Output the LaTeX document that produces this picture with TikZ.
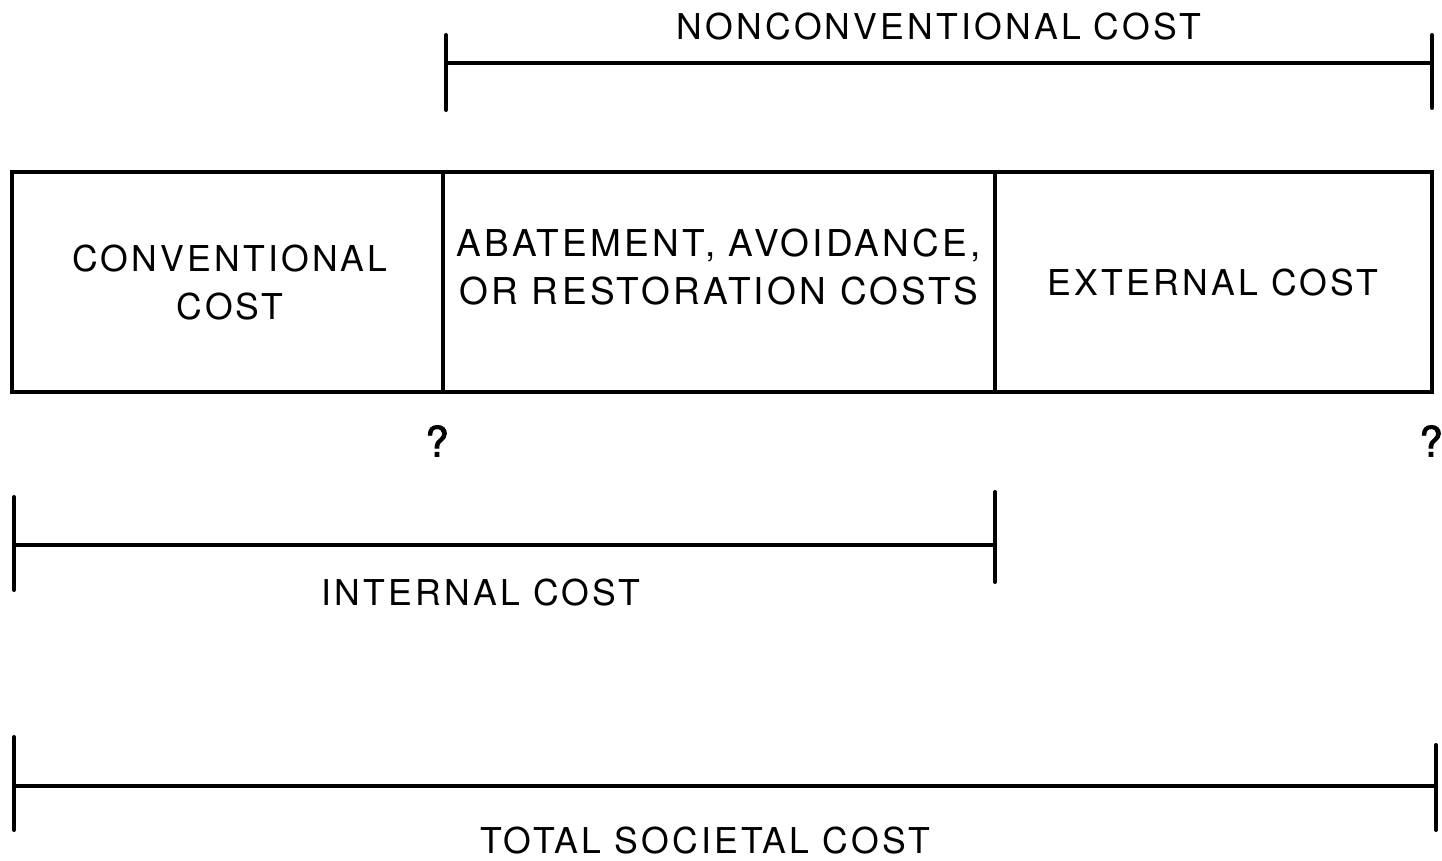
\documentclass[tikz,border=0pt]{standalone}
\usepackage{fontspec}
\newfontfamily\lab[LetterSpace=9]{TeX Gyre Heros}
\newfontfamily\qfont[FakeBold=2]{TeX Gyre Heros}
\begin{document}
\begin{tikzpicture}[x=0.5pt,y=-0.5pt,
  bar/.style={line width=1.8pt},
  tick/.style={line width=2pt,line cap=round},
  lbl/.style={font=\lab\fontsize{17.8}{21}\selectfont,inner sep=0pt,align=center},
  q/.style={font=\qfont\fontsize{21}{24}\selectfont,inner sep=0pt}]
\useasboundingbox (0,0) rectangle (1442,861);
% box
\node[draw,line width=2pt,minimum width=710pt,minimum height=110pt,inner sep=0pt] (box) at (722,282) {};
\coordinate (d1t) at (443,172); \coordinate (d1b) at (443,392);
\coordinate (d2t) at (995,172); \coordinate (d2b) at (995,392);
\draw[line width=2pt] (d1t) -- (d1b);
\draw[line width=2pt] (d2t) -- (d2b);
\node[lbl] (conv) at (230,283) {CONVENTIONAL\\[3pt]COST};
\node[lbl,font=\lab\fontsize{18.5}{21}\selectfont] (abat) at (719,267) {ABATEMENT, AVOIDANCE,\\[3pt]OR RESTORATION COSTS};
\node[lbl] (ext) at (1213,283) {EXTERNAL COST};
% nonconventional
\coordinate (n1t) at (446,35); \coordinate (n1b) at (446,110);
\coordinate (n2t) at (1432,35); \coordinate (n2b) at (1432,108);
\coordinate (n1) at (446,63); \coordinate (n2) at (1432,63);
\draw[tick] (n1t) -- (n1b);
\draw[tick] (n2t) -- (n2b);
\draw[bar] (n1) -- (n2);
\node[lbl] (nlab) at (939,27) {NONCONVENTIONAL COST};
% question marks
\node[q] (q1) at (437,441) {?};
\node[q] (q2) at (1431,441) {?};
% internal
\coordinate (i1t) at (14,497); \coordinate (i1b) at (14,590);
\coordinate (i2t) at (995,492); \coordinate (i2b) at (995,582);
\coordinate (i1) at (14,545); \coordinate (i2) at (995,545);
\draw[tick] (i1t) -- (i1b);
\draw[tick] (i2t) -- (i2b);
\draw[bar] (i1) -- (i2);
\node[lbl] (ilab) at (481,593) {INTERNAL COST};
% total
\coordinate (t1t) at (14,737); \coordinate (t1b) at (14,830);
\coordinate (t2t) at (1436,745); \coordinate (t2b) at (1436,830);
\coordinate (t1) at (14,786); \coordinate (t2) at (1436,786);
\draw[tick] (t1t) -- (t1b);
\draw[tick] (t2t) -- (t2b);
\draw[bar] (t1) -- (t2);
\node[lbl] (tlab) at (705,841) {TOTAL SOCIETAL COST};
\end{tikzpicture}
\end{document}
